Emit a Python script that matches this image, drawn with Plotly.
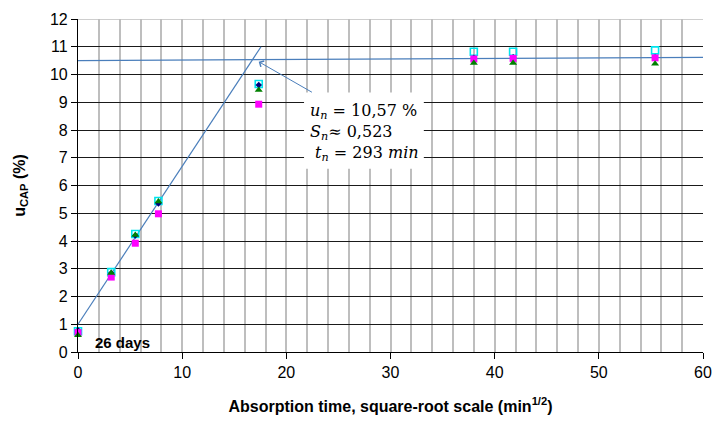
import plotly.graph_objects as go

# ---- data ----
t_sqrt = [0, 3.19, 5.5, 7.72, 17.35, 38.0, 41.77, 55.4]
u_navy = [0.78, 2.85, 4.2, 5.35, 9.62, 10.6, 10.62, 10.62]
u_cyan = [0.75, 2.88, 4.25, 5.44, 9.66, 10.82, 10.82, 10.87]
u_magenta = [0.7, 2.7, 3.92, 4.98, 8.93, 10.56, 10.58, 10.6]
u_green = [0.6, 2.85, 4.22, 5.42, 9.44, 10.41, 10.41, 10.39]

fit1_x = [0, 17.57]
fit1_y = [1.0, 11.0]
fit2_x = [0, 60]
fit2_y = [10.5, 10.62]

x_ticks = [0, 10, 20, 30, 40, 50, 60]
y_ticks = list(range(0, 13))

FONT = "Arial, Liberation Sans, sans-serif"
LINE_BLUE = "#4a7ebb"

fig = go.Figure()

fig.add_trace(go.Scatter(x=fit1_x, y=fit1_y, mode="lines",
                         line=dict(color=LINE_BLUE, width=1.2), showlegend=False,
                         hoverinfo="skip"))
fig.add_trace(go.Scatter(x=fit2_x, y=fit2_y, mode="lines",
                         line=dict(color=LINE_BLUE, width=1.2), showlegend=False,
                         hoverinfo="skip"))

fig.add_trace(go.Scatter(x=t_sqrt, y=u_cyan, mode="markers", name="Sample 2",
                         marker=dict(symbol="square-open", size=7, color="#00E5EE",
                                     line=dict(width=1.6, color="#00E5EE")),
                         cliponaxis=False))
fig.add_trace(go.Scatter(x=t_sqrt, y=u_navy, mode="markers", name="Sample 1",
                         marker=dict(symbol="diamond", size=5, color="#000080"),
                         cliponaxis=False))
fig.add_trace(go.Scatter(x=t_sqrt, y=u_magenta, mode="markers", name="Sample 3",
                         marker=dict(symbol="square", size=7, color="#FF00FF"),
                         cliponaxis=False))
fig.add_trace(go.Scatter(x=t_sqrt, y=u_green, mode="markers", name="Sample 4",
                         marker=dict(symbol="triangle-up", size=7, color="#008000"),
                         cliponaxis=False))

# white box behind the annotation text
fig.add_shape(type="rect", xref="x", yref="y", x0=21.7, x1=33.2, y0=6.6, y1=9.35,
              fillcolor="white", line=dict(width=0), layer="above")
# gray top border
fig.add_shape(type="line", xref="x", yref="y", x0=0, x1=60, y0=12, y1=12,
              line=dict(color="#BEBEBE", width=1.5), layer="above")

fig.add_annotation(x=17.35, y=10.46, ax=22.6, ay=9.33, xref="x", yref="y",
                   axref="x", ayref="y", text="", showarrow=True,
                   arrowhead=4, arrowsize=1.3, arrowwidth=1, arrowcolor=LINE_BLUE)

fig.add_annotation(x=22.1, y=7.9, xref="x", yref="y", xanchor="left", yanchor="middle",
                   showarrow=False, align="left",
                   text="<i>u<sub>n</sub></i> = 10,57 %<br><i>S<sub>n</sub></i>≈ 0,523<br>"
                        "&#160;<i>t<sub>n</sub></i> = 293 <i>min</i>",
                   font=dict(family="DejaVu Serif, Liberation Serif, serif", size=16,
                             color="black"))

fig.add_annotation(x=4.3, y=0.34, xref="x", yref="y", showarrow=False,
                   text="<b>26 days</b>", font=dict(family=FONT, size=15, color="black"))

fig.update_layout(
    width=723, height=427,
    margin=dict(l=78, r=11, t=16, b=75),
    paper_bgcolor="white", plot_bgcolor="white",
    showlegend=False,
    font=dict(family=FONT, size=16, color="black"),
    xaxis=dict(range=[0, 60], tickvals=x_ticks, showgrid=True, gridcolor="#BEBEBE",
               gridwidth=1.5, minor=dict(dtick=2, showgrid=True, gridcolor="#BEBEBE",
                                         gridwidth=1.5),
               showline=True, linecolor="black", linewidth=1.2,
               ticks="outside", ticklen=6, tickcolor="black", zeroline=False,
               tickfont=dict(size=16),
               title=dict(text="<b>Absorption time, square-root scale (min<sup>1/2</sup>)</b>",
                          font=dict(size=16), standoff=20)),
    yaxis=dict(range=[0, 12], tickvals=y_ticks, showgrid=True, gridcolor="#1a1a1a",
               gridwidth=1.2, showline=True, linecolor="black", linewidth=1.2,
               ticks="outside", ticklen=6, tickcolor="black", zeroline=False,
               tickfont=dict(size=16),
               title=dict(text="<b>u<sub>CAP</sub> (%)</b>", font=dict(size=16),
                          standoff=20)),
)

fig.write_html("out.html", config={"displayModeBar": False},
               post_script="document.body.style.margin='0px';")
